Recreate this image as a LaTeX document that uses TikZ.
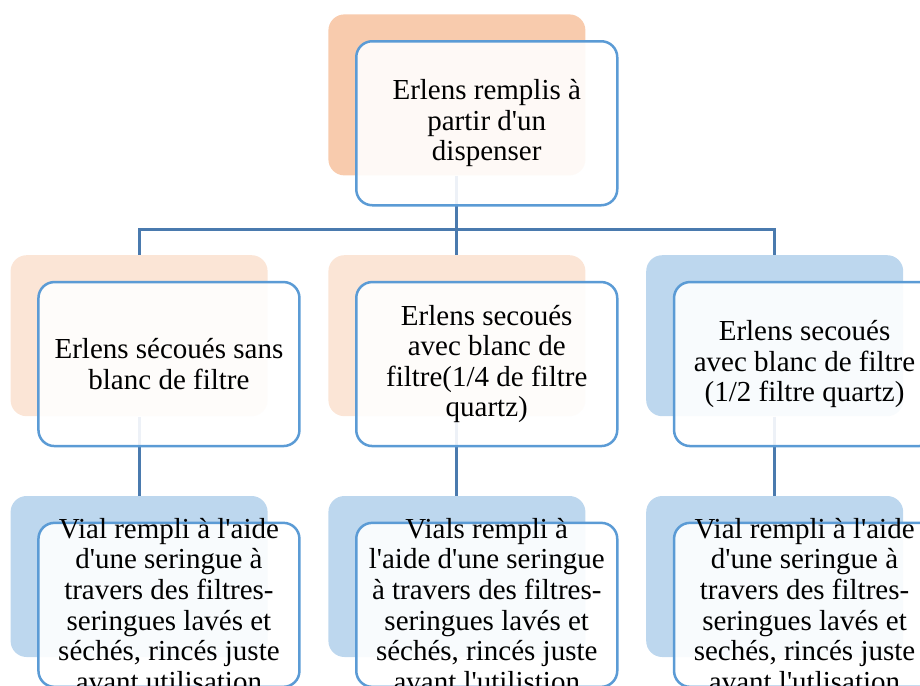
\documentclass[tikz,border=0pt]{standalone}
\usepackage{fontspec}
\setmainfont{Liberation Serif}[Ligatures=TeXOff]
\usepackage{xcolor}
\definecolor{peach}{HTML}{F8CBAD}
\definecolor{blush}{HTML}{FBE5D6}
\definecolor{sky}{HTML}{BDD7EE}
\definecolor{edgeblue}{HTML}{5B9BD5}
\definecolor{linkblue}{HTML}{4A7AAE}
\usepackage{tikz}
\usetikzlibrary{positioning,calc}

\begin{document}
\begin{tikzpicture}[
  x=0.5pt, y=-0.5pt,
  node distance=39.5pt and 30pt,
  back/.style={rounded corners=8pt, minimum width=128.5pt, minimum height=80.5pt, inner sep=0pt},
  front/.style={draw=edgeblue, line width=1.25pt, fill=white, fill opacity=0.9,
                rounded corners=8pt, minimum width=130.5pt, minimum height=82pt, inner sep=0pt},
  txt/.style={align=center, inner sep=0pt, font=\fontsize{14.5}{15.3}\selectfont},
  conn/.style={draw=linkblue, line width=1.5pt}
]
\useasboundingbox (0,0) rectangle (920,685);

% coloured back panels
\node[back, fill=peach, anchor=north west] (disp) at (328,14) {};
\node[back, fill=blush, below=of disp] (shkB) {};
\node[back, fill=blush, left=of shkB] (shkA) {};
\node[back, fill=sky, right=of shkB] (shkC) {};
\node[back, fill=sky, below=of shkA] (vialA) {};
\node[back, fill=sky, below=of shkB] (vialB) {};
\node[back, fill=sky, below=of shkC] (vialC) {};

% links
\coordinate (hub) at ($(disp.south)!0.68!(shkB.north)$);
\draw[conn] (disp.south) -- (shkB.north);
\draw[conn] (shkA.north) |- (hub) -| (shkC.north);
\foreach \c in {A,B,C}
  \draw[conn] (shk\c.south) -- (vial\c.north);

% white framed boxes
\foreach \n in {disp,shkA,shkB,shkC,vialA,vialB,vialC}
  \node[front, below right=13pt and 13.5pt of \n.north west] (\n-f) {};

% texts
\node[txt] (disp-t) at (disp-f) {Erlens remplis à\\partir d'un\\dispenser};
\node[txt] (shkA-t) at (shkA-f) {Erlens sécoués sans\\blanc de filtre};
\node[txt] (shkB-t) at (shkB-f) {Erlens secoués\\avec blanc de\\filtre(1/4 de filtre\\quartz)};
\node[txt] (shkC-t) at (shkC-f) {Erlens secoués\\avec blanc de filtre\\(1/2 filtre quartz)};
\node[txt] (vialA-t) at (vialA-f) {Vial rempli à l'aide\\d'une seringue à\\travers des filtres-\\seringues lavés et\\séchés, rincés juste\\avant utilisation};
\node[txt] (vialB-t) at (vialB-f) {Vials rempli à\\l'aide d'une seringue\\à travers des filtres-\\seringues lavés et\\séchés, rincés juste\\avant l'utilistion};
\node[txt] (vialC-t) at (vialC-f) {Vial rempli à l'aide\\d'une seringue à\\travers des filtres-\\seringues lavés et\\sechés, rincés juste\\avant l'utlisation};
\end{tikzpicture}
\end{document}
